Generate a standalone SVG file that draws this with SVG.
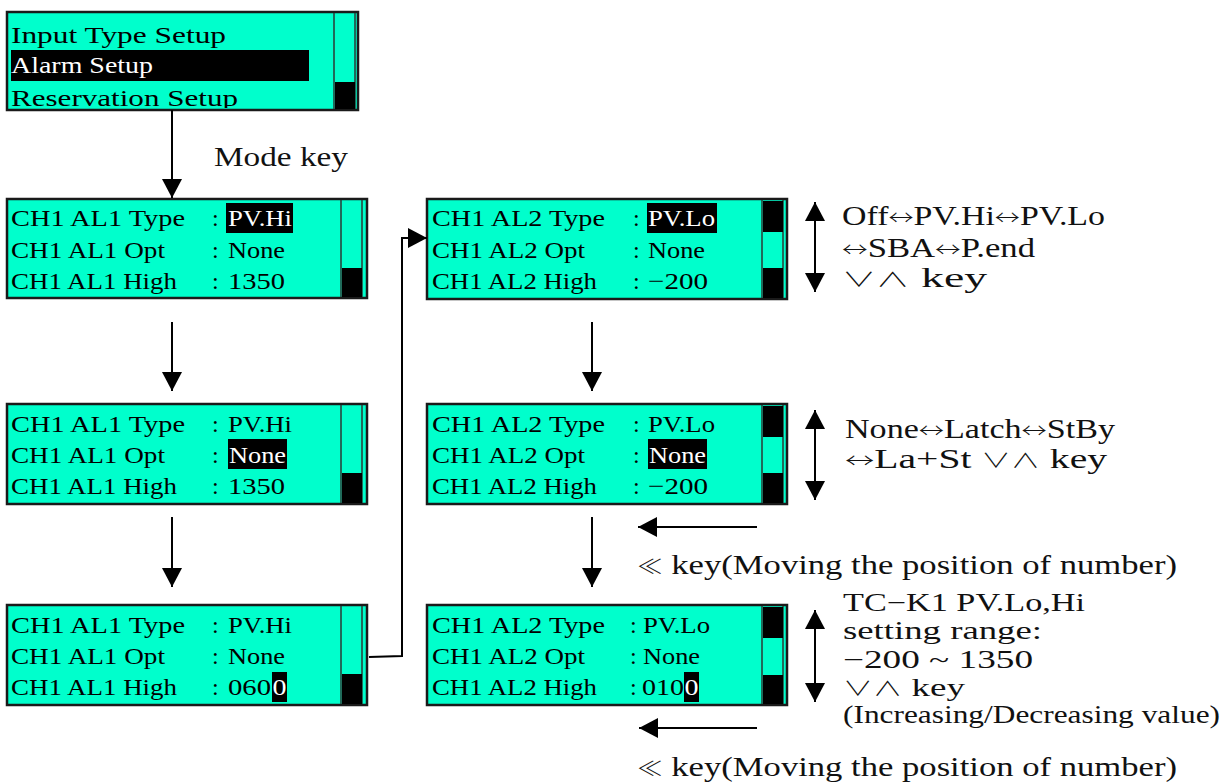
<svg xmlns="http://www.w3.org/2000/svg" width="1223" height="782" viewBox="0 0 1223 782">
<style>
.scr{fill:#00FFCC;stroke:#1a1a1a;stroke-width:2.5}
.sep{stroke:#2b3a36;stroke-width:1.5}
.thumb{fill:#000}
.t{font-family:"Liberation Serif","DejaVu Serif","Noto Sans CJK KR",serif;font-size:24px;fill:#000}
.w{fill:#fff}
.a{font-family:"Liberation Serif","DejaVu Serif","Noto Sans CJK KR",serif;font-size:27px;fill:#111}
.b{font-size:25px}
.s{font-family:"Noto Sans CJK KR","DejaVu Sans",sans-serif;font-weight:300;font-size:20px}
.ln{stroke:#000;stroke-width:2;fill:none}
</style>
<defs>
<marker id="ah" markerUnits="userSpaceOnUse" markerWidth="20" markerHeight="20" viewBox="0 0 19 20" refX="19" refY="10" orient="auto-start-reverse">
<path d="M0,0 L19,10 L0,20 z" fill="#000"/>
</marker>
</defs>

<g id="menu">
<rect class="scr" x="7" y="12" width="351" height="98"/>
<rect x="11" y="50" width="298" height="31" fill="#000"/>
<line class="sep" x1="334" y1="13" x2="334" y2="109"/>
<line class="sep" x1="355" y1="13" x2="355" y2="109"/>
<rect class="thumb" x="335" y="82" width="20" height="27"/>
<text class="t" x="11" y="43" textLength="215" lengthAdjust="spacingAndGlyphs">Input Type Setup</text>
<text class="t w" x="11" y="73" textLength="142" lengthAdjust="spacingAndGlyphs">Alarm Setup</text>
<svg x="7" y="12" width="351" height="96" overflow="hidden"><text class="t" x="4" y="94" textLength="227" lengthAdjust="spacingAndGlyphs">Reservation Setup</text></svg>
</g>

<text id="mode-key" class="a" x="214" y="166" textLength="134" lengthAdjust="spacingAndGlyphs">Mode key</text>

<g id="al1-type">
<rect class="scr" x="7" y="199" width="360" height="99"/>
<line class="sep" x1="341" y1="200" x2="341" y2="297"/>
<line class="sep" x1="362" y1="200" x2="362" y2="297"/>
<rect class="thumb" x="342" y="268" width="20" height="29"/>
<rect x="226" y="203" width="67" height="30" fill="#000"/>
<text class="t" x="11" y="226" textLength="174" lengthAdjust="spacingAndGlyphs">CH1 AL1 Type</text>
<text class="t" x="11" y="258" textLength="154" lengthAdjust="spacingAndGlyphs">CH1 AL1 Opt</text>
<text class="t" x="11" y="289" textLength="166" lengthAdjust="spacingAndGlyphs">CH1 AL1 High</text>
<text class="t" x="212" y="226">:</text><text class="t" x="212" y="258">:</text><text class="t" x="212" y="289">:</text>
<text class="t w" x="228" y="226" textLength="64" lengthAdjust="spacingAndGlyphs">PV.Hi</text>
<text class="t" x="228" y="258" textLength="57" lengthAdjust="spacingAndGlyphs">None</text>
<text class="t" x="228" y="289" textLength="57" lengthAdjust="spacingAndGlyphs">1350</text>
</g>

<g id="al1-opt">
<rect class="scr" x="7" y="404" width="360" height="100"/>
<line class="sep" x1="341" y1="405" x2="341" y2="503"/>
<line class="sep" x1="362" y1="405" x2="362" y2="503"/>
<rect class="thumb" x="342" y="473" width="20" height="30"/>
<rect x="228" y="439" width="59" height="30" fill="#000"/>
<text class="t" x="11" y="432" textLength="174" lengthAdjust="spacingAndGlyphs">CH1 AL1 Type</text>
<text class="t" x="11" y="463" textLength="154" lengthAdjust="spacingAndGlyphs">CH1 AL1 Opt</text>
<text class="t" x="11" y="494" textLength="166" lengthAdjust="spacingAndGlyphs">CH1 AL1 High</text>
<text class="t" x="212" y="432">:</text><text class="t" x="212" y="463">:</text><text class="t" x="212" y="494">:</text>
<text class="t" x="228" y="432" textLength="64" lengthAdjust="spacingAndGlyphs">PV.Hi</text>
<text class="t w" x="229" y="463" textLength="57" lengthAdjust="spacingAndGlyphs">None</text>
<text class="t" x="228" y="494" textLength="57" lengthAdjust="spacingAndGlyphs">1350</text>
</g>

<g id="al1-high">
<rect class="scr" x="7" y="605" width="360" height="100"/>
<line class="sep" x1="341" y1="606" x2="341" y2="704"/>
<line class="sep" x1="362" y1="606" x2="362" y2="704"/>
<rect class="thumb" x="342" y="674" width="20" height="30"/>
<rect x="272" y="672" width="15" height="30" fill="#000"/>
<text class="t" x="11" y="633" textLength="174" lengthAdjust="spacingAndGlyphs">CH1 AL1 Type</text>
<text class="t" x="11" y="664" textLength="154" lengthAdjust="spacingAndGlyphs">CH1 AL1 Opt</text>
<text class="t" x="11" y="695" textLength="166" lengthAdjust="spacingAndGlyphs">CH1 AL1 High</text>
<text class="t" x="212" y="633">:</text><text class="t" x="212" y="664">:</text><text class="t" x="212" y="695">:</text>
<text class="t" x="228" y="633" textLength="64" lengthAdjust="spacingAndGlyphs">PV.Hi</text>
<text class="t" x="228" y="664" textLength="57" lengthAdjust="spacingAndGlyphs">None</text>
<text class="t" x="228" y="695" textLength="43" lengthAdjust="spacingAndGlyphs">060</text>
<text class="t w" x="272.5" y="695" textLength="14" lengthAdjust="spacingAndGlyphs">0</text>
</g>

<g id="al2-type">
<rect class="scr" x="427" y="199" width="360" height="100"/>
<line class="sep" x1="762" y1="200" x2="762" y2="298"/>
<line class="sep" x1="783" y1="200" x2="783" y2="298"/>
<rect class="thumb" x="763" y="201" width="20" height="31"/>
<rect class="thumb" x="763" y="268" width="20" height="30"/>
<rect x="647" y="203" width="70" height="30" fill="#000"/>
<text class="t" x="432" y="226" textLength="173" lengthAdjust="spacingAndGlyphs">CH1 AL2 Type</text>
<text class="t" x="432" y="258" textLength="153" lengthAdjust="spacingAndGlyphs">CH1 AL2 Opt</text>
<text class="t" x="432" y="289" textLength="165" lengthAdjust="spacingAndGlyphs">CH1 AL2 High</text>
<text class="t" x="633" y="226">:</text><text class="t" x="633" y="258">:</text><text class="t" x="633" y="289">:</text>
<text class="t w" x="648" y="226" textLength="67" lengthAdjust="spacingAndGlyphs">PV.Lo</text>
<text class="t" x="648" y="258" textLength="57" lengthAdjust="spacingAndGlyphs">None</text>
<text class="t" x="648" y="289" textLength="60" lengthAdjust="spacingAndGlyphs">−200</text>
</g>

<g id="al2-opt">
<rect class="scr" x="427" y="404" width="360" height="100"/>
<line class="sep" x1="762" y1="405" x2="762" y2="503"/>
<line class="sep" x1="783" y1="405" x2="783" y2="503"/>
<rect class="thumb" x="763" y="406" width="20" height="31"/>
<rect class="thumb" x="763" y="473" width="20" height="30"/>
<rect x="648" y="439" width="59" height="30" fill="#000"/>
<text class="t" x="432" y="432" textLength="173" lengthAdjust="spacingAndGlyphs">CH1 AL2 Type</text>
<text class="t" x="432" y="463" textLength="153" lengthAdjust="spacingAndGlyphs">CH1 AL2 Opt</text>
<text class="t" x="432" y="494" textLength="165" lengthAdjust="spacingAndGlyphs">CH1 AL2 High</text>
<text class="t" x="633" y="432">:</text><text class="t" x="633" y="463">:</text><text class="t" x="633" y="494">:</text>
<text class="t" x="648" y="432" textLength="67" lengthAdjust="spacingAndGlyphs">PV.Lo</text>
<text class="t w" x="649" y="463" textLength="57" lengthAdjust="spacingAndGlyphs">None</text>
<text class="t" x="648" y="494" textLength="60" lengthAdjust="spacingAndGlyphs">−200</text>
</g>

<g id="al2-high">
<rect class="scr" x="427" y="605" width="360" height="100"/>
<line class="sep" x1="762" y1="606" x2="762" y2="704"/>
<line class="sep" x1="783" y1="606" x2="783" y2="704"/>
<rect class="thumb" x="763" y="607" width="20" height="31"/>
<rect class="thumb" x="763" y="675" width="20" height="29"/>
<rect x="684" y="672" width="15" height="30" fill="#000"/>
<text class="t" x="432" y="633" textLength="173" lengthAdjust="spacingAndGlyphs">CH1 AL2 Type</text>
<text class="t" x="432" y="664" textLength="153" lengthAdjust="spacingAndGlyphs">CH1 AL2 Opt</text>
<text class="t" x="432" y="695" textLength="165" lengthAdjust="spacingAndGlyphs">CH1 AL2 High</text>
<text class="t" x="630" y="633">:</text><text class="t" x="630" y="664">:</text><text class="t" x="630" y="695">:</text>
<text class="t" x="643" y="633" textLength="67" lengthAdjust="spacingAndGlyphs">PV.Lo</text>
<text class="t" x="643" y="664" textLength="57" lengthAdjust="spacingAndGlyphs">None</text>
<text class="t" x="642" y="695" textLength="42" lengthAdjust="spacingAndGlyphs">010</text>
<text class="t w" x="684.5" y="695" textLength="14" lengthAdjust="spacingAndGlyphs">0</text>
</g>

<g id="connectors">
<line class="ln" x1="172" y1="110" x2="172" y2="198" marker-end="url(#ah)"/>
<line class="ln" x1="172" y1="322" x2="172" y2="391" marker-end="url(#ah)"/>
<line class="ln" x1="172" y1="517" x2="172" y2="587" marker-end="url(#ah)"/>
<line class="ln" x1="592" y1="322" x2="592" y2="391" marker-end="url(#ah)"/>
<line class="ln" x1="592" y1="517" x2="592" y2="587" marker-end="url(#ah)"/>
<polyline class="ln" points="369,657 402,656 402,238 427,238" marker-end="url(#ah)"/>
<line class="ln" x1="757" y1="527" x2="638" y2="527" marker-end="url(#ah)"/>
<line class="ln" x1="757" y1="728" x2="639" y2="728" marker-end="url(#ah)"/>
<line class="ln" x1="815" y1="202" x2="815" y2="292" marker-start="url(#ah)" marker-end="url(#ah)"/>
<line class="ln" x1="815" y1="410" x2="815" y2="500" marker-start="url(#ah)" marker-end="url(#ah)"/>
<line class="ln" x1="815" y1="610" x2="815" y2="702" marker-start="url(#ah)" marker-end="url(#ah)"/>
</g>

<g id="notes">
<text class="a" x="842" y="225" textLength="263" lengthAdjust="spacingAndGlyphs">Off<tspan class="s">↔</tspan>PV.Hi<tspan class="s">↔</tspan>PV.Lo</text>
<text class="a" x="842" y="257" textLength="193" lengthAdjust="spacingAndGlyphs"><tspan class="s">↔</tspan>SBA<tspan class="s">↔</tspan>P.end</text>
<text class="a" x="842" y="287" textLength="145" lengthAdjust="spacingAndGlyphs"><tspan class="s">∨∧</tspan>  key</text>
<text class="a" x="845" y="438" textLength="270" lengthAdjust="spacingAndGlyphs">None<tspan class="s">↔</tspan>Latch<tspan class="s">↔</tspan>StBy</text>
<text class="a" x="845" y="468" textLength="262" lengthAdjust="spacingAndGlyphs"><tspan class="s">↔</tspan>La+St  <tspan class="s">∨∧</tspan>  key</text>
<text class="a" x="637" y="574" textLength="540" lengthAdjust="spacingAndGlyphs"><tspan class="s">≪</tspan>  key(Moving the position of number)</text>
<text class="a b" x="843" y="611" textLength="242" lengthAdjust="spacingAndGlyphs">TC−K1 PV.Lo,Hi</text>
<text class="a b" x="843" y="639" textLength="199" lengthAdjust="spacingAndGlyphs">setting range:</text>
<text class="a b" x="843" y="668" textLength="190" lengthAdjust="spacingAndGlyphs">−200 ~ 1350</text>
<text class="a b" x="843" y="696" textLength="122" lengthAdjust="spacingAndGlyphs"><tspan class="s">∨∧</tspan>  key</text>
<text class="a b" x="843" y="723" textLength="377" lengthAdjust="spacingAndGlyphs">(Increasing/Decreasing value)</text>
<text class="a" x="637" y="776" textLength="540" lengthAdjust="spacingAndGlyphs"><tspan class="s">≪</tspan>  key(Moving the position of number)</text>
</g>
</svg>
